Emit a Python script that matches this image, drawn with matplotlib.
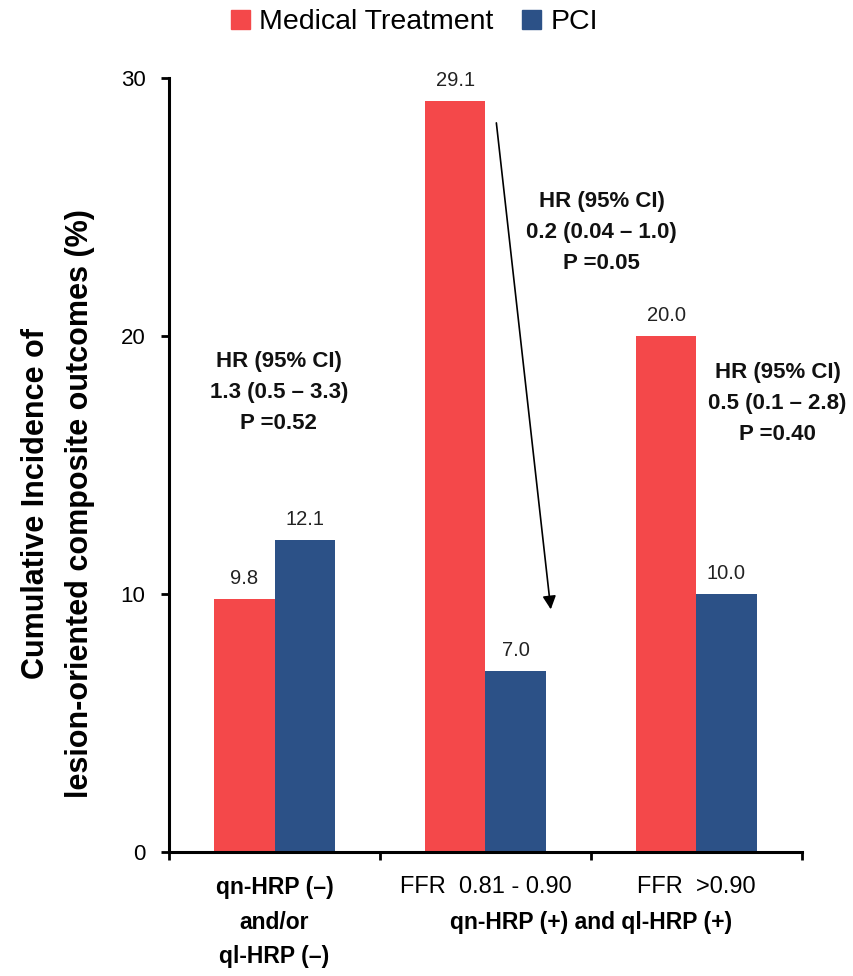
import numpy as np
import matplotlib
matplotlib.use("Agg")
import matplotlib.pyplot as plt
from matplotlib.patches import Patch

plt.rcParams['font.family'] = ['Liberation Sans', 'DejaVu Sans']

# data
groups = ['qn-HRP (\u2013)\nand/or\nql-HRP (\u2013)', 'FFR  0.81 - 0.90', 'FFR  >0.90']
medical = [9.8, 29.1, 20.0]
pci = [12.1, 7.0, 10.0]
series_names = ['Medical Treatment', 'PCI']
hr_texts = ['HR (95% CI)\n1.3 (0.5 \u2013 3.3)\nP =0.52',
            'HR (95% CI)\n0.2 (0.04 \u2013 1.0)\nP =0.05',
            'HR (95% CI)\n0.5 (0.1 \u2013 2.8)\nP =0.40']
subgroup_label = 'qn-HRP (+) and ql-HRP (+)'

red = '#F4484A'
blue = '#2C5187'

fig = plt.figure(figsize=(8.54, 9.76), dpi=100)
ax = fig.add_axes([0.198, 0.127, 0.741, 0.793])

x = np.arange(len(groups))
w = 0.285
b1 = ax.bar(x - w / 2, medical, w, color=red)
b2 = ax.bar(x + w / 2, pci, w, color=blue)

# value labels
for bars, vals in [(b1, medical), (b2, pci)]:
    for rect, v in zip(bars, vals):
        ax.annotate(f'{v:.1f}', (rect.get_x() + rect.get_width() / 2, v),
                    xytext=(0, 8), textcoords='offset points',
                    ha='center', va='bottom', fontsize=14.5, color='#222222')

# HR annotations
hr_pos = [(0.02, 17.8), (1.55, 24.0), (2.385, 17.4)]
for (hx, hy), t in zip(hr_pos, hr_texts):
    ax.text(hx, hy, t, ha='center', va='center', fontsize=16,
            fontweight='bold', linespacing=1.62, color='#111111')

# arrow from the medical bar to the PCI bar in the middle group
ax.annotate('', xy=(1.311, 9.3), xytext=(1.05, 28.37),
            arrowprops=dict(arrowstyle='-|>', color='black', lw=1.2,
                            mutation_scale=20))

ax.set_xlim(-0.5, 2.5)
ax.set_ylim(0, 30)
ax.set_yticks([0, 10, 20, 30])
ax.set_xticks([-0.5, 0.5, 1.5, 2.5])
ax.set_xticklabels([])
ax.tick_params(axis='y', direction='out', length=6, width=2, pad=11,
               labelsize=16, colors='black')
ax.tick_params(axis='x', direction='out', length=6, width=2)
for s in ['top', 'right']:
    ax.spines[s].set_visible(False)
for s in ['left', 'bottom']:
    ax.spines[s].set_linewidth(2.2)

# category labels
tr = ax.get_xaxis_transform()
ax.text(0, -0.0904, groups[0], transform=tr, ha='center', va='center',
        fontsize=16.5, fontweight='bold', linespacing=1.62)
ax.text(1, -0.0452, groups[1], transform=tr, ha='center', va='center', fontsize=17)
ax.text(2, -0.0452, groups[2], transform=tr, ha='center', va='center', fontsize=17)
ax.text(1.5, -0.0904, subgroup_label, transform=tr, ha='center', va='center',
        fontsize=16.5, fontweight='bold')

fig.text(0.068, 0.484, 'Cumulative Incidence of\nlesion-oriented composite outcomes (%)',
         rotation=90, ha='center', va='center', fontsize=22, fontweight='bold',
         linespacing=1.6, multialignment='center')

handles = [Patch(color=red), Patch(color=blue)]
fig.legend(handles, series_names, loc='center', bbox_to_anchor=(0.485, 0.977),
           ncol=2, frameon=False, fontsize=20.5, handlelength=0.68, handleheight=0.68,
           handletextpad=0.32, columnspacing=1.0)

fig.savefig('out.png', dpi=100)
